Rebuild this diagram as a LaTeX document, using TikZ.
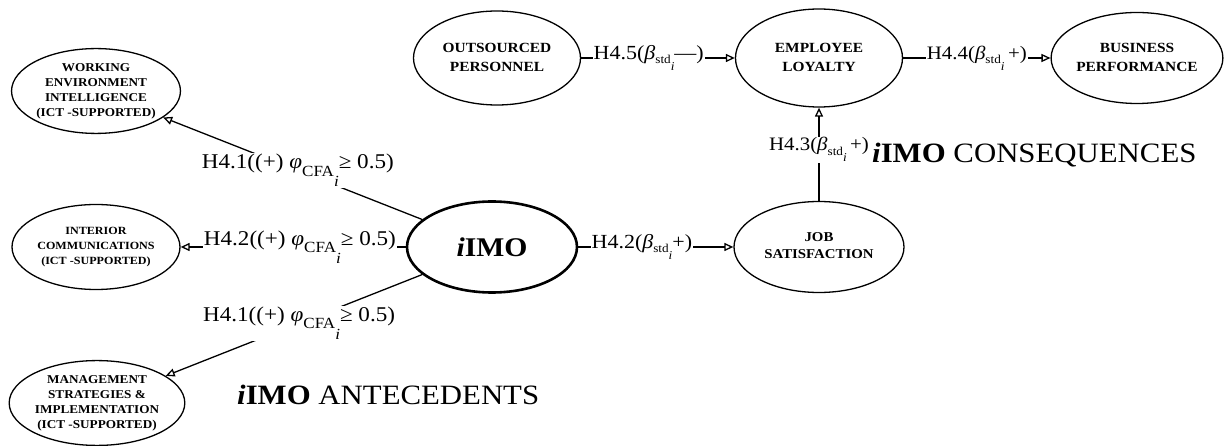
\documentclass[tikz,border=0pt]{standalone}
\usepackage{fontspec}
\setmainfont{Liberation Serif}
\usepackage{graphicx}
\usetikzlibrary{shapes.geometric,arrows.meta}

% slightly widened lettering
\newcommand{\stretchx}[1]{\scalebox{1.1}[1]{#1}}
\newcommand{\stack}[1]{\stretchx{\begin{tabular}{@{}c@{}}#1\end{tabular}}}
% indexed symbols with deep, large subscripts
\newcommand{\phicfa}{\textit{φ}\raisebox{-0.36em}{\fontsize{15.5}{15}\selectfont CFA\raisebox{-0.68em}{\textit{i}}}}
\newcommand{\bstd}{\textit{β}\raisebox{-0.22em}{\fontsize{12}{12}\selectfont std\raisebox{-0.55em}{\textit{i}}}}
\newcommand{\imo}{\textbf{\textit{i}IMO}}

\tikzset{
  ell/.style={ellipse, draw, line width=1.3pt, inner sep=0pt, font=\bfseries},
  core/.style={ellipse, draw, line width=2.6pt, inner sep=0pt,
    minimum width=170pt, minimum height=91pt, font=\fontsize{27}{30}\selectfont},
  topfont/.style={font=\fontsize{14}{19}\selectfont\bfseries},
  leftfont/.style={font=\fontsize{12}{15}\selectfont\bfseries},
  hyp/.style={fill=white, inner sep=1pt},
  link/.style={line width=1.3pt, -{Triangle[open,length=9pt,width=8pt]}},
  title/.style={anchor=base west, inner sep=0pt, font=\fontsize{28}{30}\selectfont},
}

\begin{document}
\begin{tikzpicture}[x=1pt,y=-1pt]
\useasboundingbox (0,0) rectangle (1227,446);

% antecedents
\node[ell, leftfont, minimum width=168pt, minimum height=84pt] (wei) at (96,91)
  {\stack{WORKING\\ENVIRONMENT\\INTELLIGENCE\\(ICT -SUPPORTED)}};
\node[ell, font=\fontsize{11}{15}\selectfont\bfseries, minimum width=168pt, minimum height=85pt] (ic) at (96,247)
  {\stack{INTERIOR\\COMMUNICATIONS\\(ICT -SUPPORTED)}};
\node[ell, leftfont, minimum width=170pt, minimum height=80pt] (msi) at (97,403)
  {\stack{MANAGEMENT\\STRATEGIES \&\\IMPLEMENTATION\\(ICT -SUPPORTED)}};

% central construct
\node[core] (imo) at (492,247) {\stretchx{\imo}};

% consequences
\node[ell, topfont, minimum width=167pt, minimum height=94pt] (op) at (497,58)
  {\stack{OUTSOURCED\\PERSONNEL}};
\node[ell, topfont, minimum width=167pt, minimum height=98pt] (el) at (819,58)
  {\stack{EMPLOYEE\\LOYALTY}};
\node[ell, topfont, minimum width=167pt, minimum height=91pt] (bp) at (1137,58)
  {\stack{BUSINESS\\PERFORMANCE}};
\node[ell, font=\fontsize{13.5}{17}\selectfont\bfseries, minimum width=170pt, minimum height=91pt] (js) at (819,247)
  {\stack{JOB\\SATISFACTION}};

% hypotheses
\begin{scope}[every node/.append style={font=\fontsize{21}{24}\selectfont}]
\draw[link] (imo) -- node[hyp, pos=0.48] {\stretchx{H4.1((+) \phicfa≥ 0.5)}} (wei);
\draw[link] (imo) -- node[hyp, pos=0.47] {\stretchx{H4.2((+) \phicfa≥ 0.5)}} (ic);
\draw[link] (imo) -- node[hyp, pos=0.48] {\stretchx{H4.1((+) \phicfa≥ 0.5)}} (msi);
\end{scope}
\begin{scope}[every node/.append style={font=\fontsize{20}{24}\selectfont}]
\draw[link] (imo) -- node[hyp, pos=0.41] {\stretchx{H4.2(\bstd+)}} (js);
\draw[link] (op) -- node[hyp, pos=0.44] {\stretchx{H4.5(\bstd—)}} (el);
\end{scope}
\begin{scope}[every node/.append style={font=\fontsize{19}{24}\selectfont}]
\draw[link] (js) -- node[hyp, pos=0.55] {\stretchx{H4.3(\bstd\,+)}} (el);
\draw[link] (el) -- node[hyp, pos=0.5] {\stretchx{H4.4(\bstd\,+)}} (bp);
\end{scope}

% group captions
\node[title] (ante) at (237,405) {\stretchx{\imo{} ANTECEDENTS}};
\node[title] (cons) at (872,163) {\stretchx{\imo{} CONSEQUENCES}};
\end{tikzpicture}
\end{document}
